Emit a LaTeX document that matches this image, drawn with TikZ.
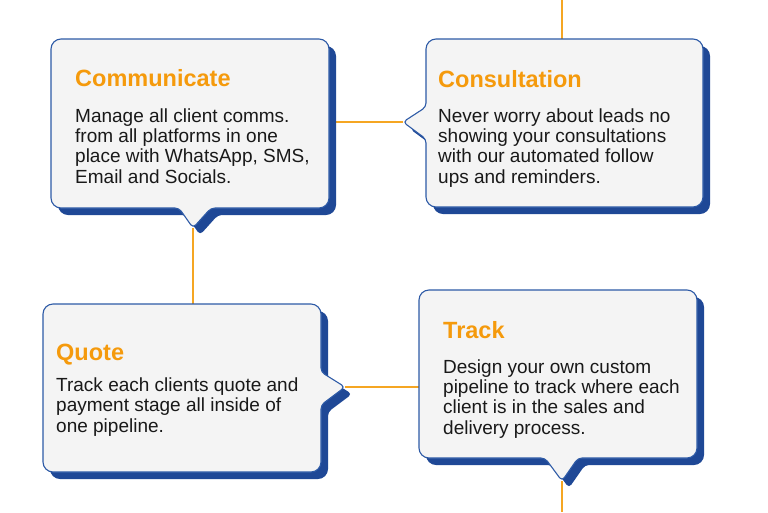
\documentclass[tikz,border=0pt]{standalone}
\usepackage{fontspec}
\setmainfont{Liberation Sans}
\usetikzlibrary{positioning}
\definecolor{boxfill}{HTML}{F4F4F4}
\definecolor{boxline}{HTML}{2D5AA6}
\definecolor{shadowblue}{HTML}{1F4896}
\definecolor{linkorange}{HTML}{F5A623}
\definecolor{titleorange}{HTML}{F59A0C}
% Sprechblase: Schatten und Flaeche aus demselben Pfad
\newcommand{\bubble}[1]{%
  \fill[shadebox, shift={(7,7)}] #1;
  \path[face] #1;}

\begin{document}
\begin{tikzpicture}[x=1pt, y=-1pt,
    boxarea/.style={rectangle, inner sep=0pt, anchor=north west,
      minimum width=#1, minimum height=169pt},
    face/.style={fill=boxfill, draw=boxline, line width=1.1pt},
    shadebox/.style={fill=shadowblue},
    link/.style={draw=linkorange, line width=1.3pt},
    title/.style={anchor=base west, inner sep=0pt, text=titleorange,
      font=\fontsize{23.5}{26}\selectfont\bfseries},
    body/.style={anchor=base west, inner sep=0pt, align=left,
      text=black!90, font=\fontsize{19}{20.3}\selectfont}]
\useasboundingbox (0,0) rectangle (768,512);

% Flaechen der Kaesten
\node[boxarea=278pt] (comm) at (51,39) {};
\node[boxarea=277pt] (consult) at (426,39) {};
\node[boxarea=278pt] (quote) at (43,304) {};
\node[boxarea=278pt] (track) at (419,290) {};

% Spitzen und freie Enden
\coordinate (comm-tip) at (193,228);
\coordinate (consult-tip) at (403,122);
\coordinate (quote-tip) at (345,387);
\coordinate (track-tip) at (562,481);
\coordinate (top-end) at (562,0);
\coordinate (bottom-end) at (562,512);

% Verbindungen
\draw[link] (top-end) -- (top-end |- consult.north);
\draw[link] (consult-tip) -- (consult-tip -| comm.east);
\draw[link] (comm-tip) -- (comm-tip |- quote.north);
\draw[link] (quote-tip) -- (quote-tip -| track.west);
\draw[link] (track-tip) -- (bottom-end);

% Sprechblasen
\bubble{[rounded corners=10pt] (120,39) -- (329,39) -- (329,208)
  [rounded corners=4pt] -- (211,208) -- (193,228) -- (179,208)
  [rounded corners=10pt] -- (51,208) -- (51,39) -- cycle}
\bubble{[rounded corners=10pt] (560,39) -- (703,39) -- (703,207)
  -- (426,207) [rounded corners=4pt] -- (426,139) -- (403,122) -- (426,107)
  [rounded corners=10pt] -- (426,39) -- cycle}
\bubble{[rounded corners=10pt] (180,304) -- (321,304)
  [rounded corners=4pt] -- (321,372) -- (345,387) -- (321,405)
  [rounded corners=10pt] -- (321,472) -- (43,472) -- (43,304) -- cycle}
\bubble{[rounded corners=10pt] (560,290) -- (697,290) -- (697,458)
  [rounded corners=4pt] -- (578,458) -- (562,481) -- (545,458)
  [rounded corners=10pt] -- (419,458) -- (419,290) -- cycle}

% Texte (Grundlinie der letzten Zeile)
\node[title] (comm-title) at (75,86) {Communicate};
\node[body] (comm-text) at (75,183) {Manage all client comms.\\from all platforms in one\\place with WhatsApp, SMS,\\Email and Socials.};

\node[title] (consult-title) at (438,87) {Consultation};
\node[body] (consult-text) at (438,183) {Never worry about leads no\\showing your consultations\\with our automated follow\\ups and reminders.};

\node[title] (quote-title) at (56,360) {Quote};
\node[body] (quote-text) at (56,432) {Track each clients quote and\\payment stage all inside of\\one pipeline.};

\node[title] (track-title) at (443,338) {Track};
\node[body] (track-text) at (443,434) {Design your own custom\\pipeline to track where each\\client is in the sales and\\delivery process.};
\end{tikzpicture}
\end{document}
